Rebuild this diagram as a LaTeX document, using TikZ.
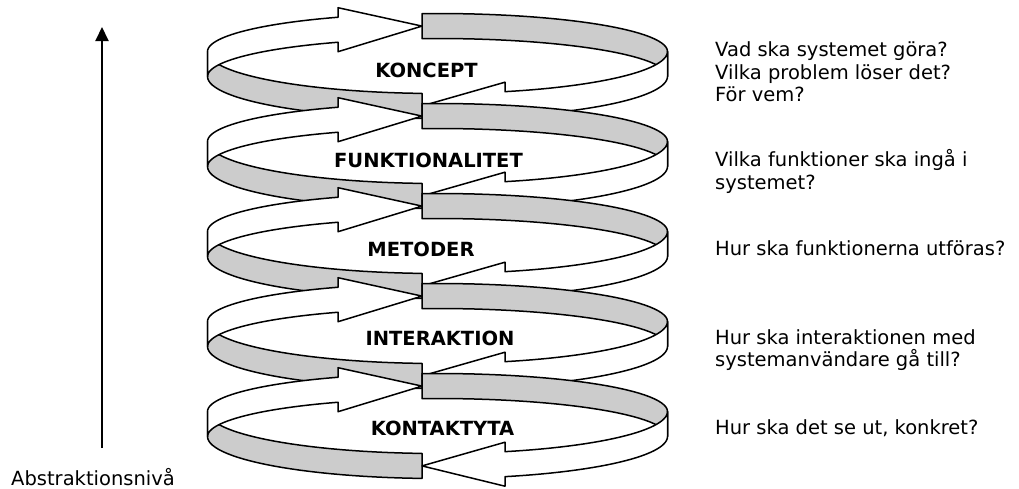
\documentclass[tikz,border=0pt]{standalone}
\usepackage{fontspec}
\setmainfont{DejaVu Sans}
\usetikzlibrary{arrows.meta}
\tikzset{
  ribbon/.style={draw=black, line width=1.5pt, line join=round},
  tailband/.style={ribbon, fill=black!20},
  arrowband/.style={ribbon, fill=white},
  levellabel/.style={font=\fontsize{19.5}{22.5}\selectfont\bfseries, inner sep=0pt},
  question/.style={font=\fontsize{19.5}{22.5}\selectfont, align=left, anchor=west, inner sep=0pt}
}
\begin{document}
\begin{tikzpicture}[x=1pt, y=-1pt]
\useasboundingbox (0,0) rectangle (1019,488);
% spiral geometry, in pixels of the original
\def\cx{437.5}
\def\ra{230}
\def\ru{38}
\def\rl{42}
\foreach \lvl in {0,...,4} {
  \pgfmathsetmacro{\yc}{64+90*\lvl}
  \pgfmathsetmacro{\yt}{\yc-12.5}
  \pgfmathsetmacro{\yb}{\yc+12.5}
  % gray tail, lower left
  \path[tailband] plot[domain=93.86:180, samples=30, variable=\t] ({\cx+\ra*cos(\t)}, {\yt+\rl*sin(\t)})
    -- plot[domain=180:93.86, samples=30, variable=\t] ({\cx+\ra*cos(\t)}, {\yb+\rl*sin(\t)}) -- cycle;
  % gray tail, upper right
  \path[tailband] plot[domain=266.14:360, samples=30, variable=\t] ({\cx+\ra*cos(\t)}, {\yt+\ru*sin(\t)})
    -- plot[domain=360:266.14, samples=30, variable=\t] ({\cx+\ra*cos(\t)}, {\yb+\ru*sin(\t)}) -- cycle;
  % white arrow over the top, pointing right
  \path[arrowband] plot[domain=180:244.37, samples=30, variable=\t] ({\cx+\ra*cos(\t)}, {\yt+\ru*sin(\t)})
    -- (338,{\yc-56.3}) -- (422,{\yc-37.9}) -- (338,{\yc-12.3})
    -- plot[domain=244.37:180, samples=30, variable=\t] ({\cx+\ra*cos(\t)}, {\yb+\ru*sin(\t)}) -- cycle;
  % white arrow along the front, pointing left
  \path[arrowband] plot[domain=0:72.93, samples=30, variable=\t] ({\cx+\ra*cos(\t)}, {\yt+\rl*sin(\t)})
    -- (505,{\yc+18.2}) -- (422,{\yc+41.9}) -- (505,{\yc+62.2})
    -- plot[domain=72.93:0, samples=30, variable=\t] ({\cx+\ra*cos(\t)}, {\yb+\rl*sin(\t)}) -- cycle;
}
% level names
\node[levellabel] (concept) at (426.5,70) {KONCEPT};
\node[levellabel] (function) at (428.5,160) {FUNKTIONALITET};
\node[levellabel] (method) at (421,249) {METODER};
\node[levellabel] (interaction) at (440,338) {INTERAKTION};
\node[levellabel] (surface) at (442.5,428) {KONTAKTYTA};
% questions
\node[question] (whatfor) at (715,72) {Vad ska systemet göra?\\Vilka problem löser det?\\För vem?};
\node[question] (whichfn) at (715,171.5) {Vilka funktioner ska ingå i\\systemet?};
\node[question] (howdone) at (715,248) {Hur ska funktionerna utföras?};
\node[question] (howuse) at (715,350) {Hur ska interaktionen med\\systemanvändare gå till?};
\node[question] (howlook) at (715,428) {Hur ska det se ut, konkret?};
% abstraction axis
\node[font=\fontsize{19.5}{22.5}\selectfont, inner sep=0pt, anchor=base] (abstr) at (93,485) {Abstraktionsnivå};
\coordinate (axisfoot) at (102,448);
\coordinate (axistop) at (102,27);
\draw[line width=2pt, -{Triangle[length=14pt, width=13pt]}] (axisfoot) -- (axistop);
\end{tikzpicture}
\end{document}
